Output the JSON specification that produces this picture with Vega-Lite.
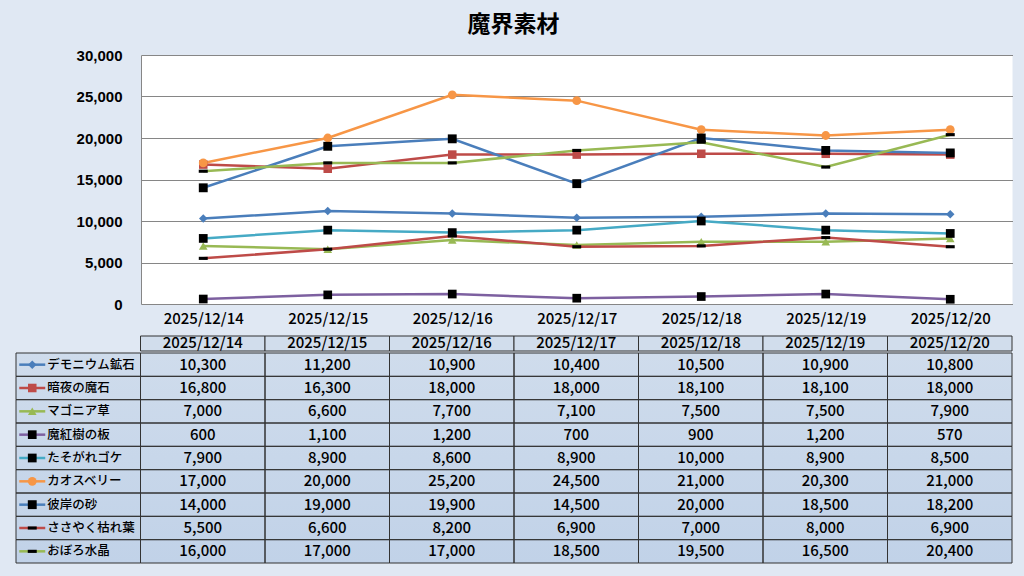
{
  "$schema": "https://vega.github.io/schema/vega-lite/v6.json",
  "background": "#e0e8f3",
  "padding": {"left": 14, "right": 14, "top": 14, "bottom": 12},
  "title": {"text": "魔界素材", "fontSize": 23, "font": "Noto Sans CJK JP", "fontWeight": "bold", "color": "#000000", "anchor": "middle", "offset": 11},
  "config": {"view": {"stroke": null}, "font": "Noto Sans CJK JP"},
  "datasets": {
    "long": [
      {"series": "デモニウム鉱石", "date": "2025/12/14", "value": 10300},
      {"series": "デモニウム鉱石", "date": "2025/12/15", "value": 11200},
      {"series": "デモニウム鉱石", "date": "2025/12/16", "value": 10900},
      {"series": "デモニウム鉱石", "date": "2025/12/17", "value": 10400},
      {"series": "デモニウム鉱石", "date": "2025/12/18", "value": 10500},
      {"series": "デモニウム鉱石", "date": "2025/12/19", "value": 10900},
      {"series": "デモニウム鉱石", "date": "2025/12/20", "value": 10800},
      {"series": "暗夜の魔石", "date": "2025/12/14", "value": 16800},
      {"series": "暗夜の魔石", "date": "2025/12/15", "value": 16300},
      {"series": "暗夜の魔石", "date": "2025/12/16", "value": 18000},
      {"series": "暗夜の魔石", "date": "2025/12/17", "value": 18000},
      {"series": "暗夜の魔石", "date": "2025/12/18", "value": 18100},
      {"series": "暗夜の魔石", "date": "2025/12/19", "value": 18100},
      {"series": "暗夜の魔石", "date": "2025/12/20", "value": 18000},
      {"series": "マゴニア草", "date": "2025/12/14", "value": 7000},
      {"series": "マゴニア草", "date": "2025/12/15", "value": 6600},
      {"series": "マゴニア草", "date": "2025/12/16", "value": 7700},
      {"series": "マゴニア草", "date": "2025/12/17", "value": 7100},
      {"series": "マゴニア草", "date": "2025/12/18", "value": 7500},
      {"series": "マゴニア草", "date": "2025/12/19", "value": 7500},
      {"series": "マゴニア草", "date": "2025/12/20", "value": 7900},
      {"series": "魔紅樹の板", "date": "2025/12/14", "value": 600},
      {"series": "魔紅樹の板", "date": "2025/12/15", "value": 1100},
      {"series": "魔紅樹の板", "date": "2025/12/16", "value": 1200},
      {"series": "魔紅樹の板", "date": "2025/12/17", "value": 700},
      {"series": "魔紅樹の板", "date": "2025/12/18", "value": 900},
      {"series": "魔紅樹の板", "date": "2025/12/19", "value": 1200},
      {"series": "魔紅樹の板", "date": "2025/12/20", "value": 570},
      {"series": "たそがれゴケ", "date": "2025/12/14", "value": 7900},
      {"series": "たそがれゴケ", "date": "2025/12/15", "value": 8900},
      {"series": "たそがれゴケ", "date": "2025/12/16", "value": 8600},
      {"series": "たそがれゴケ", "date": "2025/12/17", "value": 8900},
      {"series": "たそがれゴケ", "date": "2025/12/18", "value": 10000},
      {"series": "たそがれゴケ", "date": "2025/12/19", "value": 8900},
      {"series": "たそがれゴケ", "date": "2025/12/20", "value": 8500},
      {"series": "カオスベリー", "date": "2025/12/14", "value": 17000},
      {"series": "カオスベリー", "date": "2025/12/15", "value": 20000},
      {"series": "カオスベリー", "date": "2025/12/16", "value": 25200},
      {"series": "カオスベリー", "date": "2025/12/17", "value": 24500},
      {"series": "カオスベリー", "date": "2025/12/18", "value": 21000},
      {"series": "カオスベリー", "date": "2025/12/19", "value": 20300},
      {"series": "カオスベリー", "date": "2025/12/20", "value": 21000},
      {"series": "彼岸の砂", "date": "2025/12/14", "value": 14000},
      {"series": "彼岸の砂", "date": "2025/12/15", "value": 19000},
      {"series": "彼岸の砂", "date": "2025/12/16", "value": 19900},
      {"series": "彼岸の砂", "date": "2025/12/17", "value": 14500},
      {"series": "彼岸の砂", "date": "2025/12/18", "value": 20000},
      {"series": "彼岸の砂", "date": "2025/12/19", "value": 18500},
      {"series": "彼岸の砂", "date": "2025/12/20", "value": 18200},
      {"series": "ささやく枯れ葉", "date": "2025/12/14", "value": 5500},
      {"series": "ささやく枯れ葉", "date": "2025/12/15", "value": 6600},
      {"series": "ささやく枯れ葉", "date": "2025/12/16", "value": 8200},
      {"series": "ささやく枯れ葉", "date": "2025/12/17", "value": 6900},
      {"series": "ささやく枯れ葉", "date": "2025/12/18", "value": 7000},
      {"series": "ささやく枯れ葉", "date": "2025/12/19", "value": 8000},
      {"series": "ささやく枯れ葉", "date": "2025/12/20", "value": 6900},
      {"series": "おぼろ水晶", "date": "2025/12/14", "value": 16000},
      {"series": "おぼろ水晶", "date": "2025/12/15", "value": 17000},
      {"series": "おぼろ水晶", "date": "2025/12/16", "value": 17000},
      {"series": "おぼろ水晶", "date": "2025/12/17", "value": 18500},
      {"series": "おぼろ水晶", "date": "2025/12/18", "value": 19500},
      {"series": "おぼろ水晶", "date": "2025/12/19", "value": 16500},
      {"series": "おぼろ水晶", "date": "2025/12/20", "value": 20400}
    ],
    "series": [
      {"series": "デモニウム鉱石"}, {"series": "暗夜の魔石"}, {"series": "マゴニア草"},
      {"series": "魔紅樹の板"}, {"series": "たそがれゴケ"}, {"series": "カオスベリー"},
      {"series": "彼岸の砂"}, {"series": "ささやく枯れ葉"}, {"series": "おぼろ水晶"}
    ],
    "dates": [
      {"date": "2025/12/14"}, {"date": "2025/12/15"}, {"date": "2025/12/16"}, {"date": "2025/12/17"},
      {"date": "2025/12/18"}, {"date": "2025/12/19"}, {"date": "2025/12/20"}
    ]
  },
  "spacing": 9,
  "vconcat": [
    {
      "bounds": "flush",
      "spacing": 0,
      "hconcat": [
        {
          "width": 124.5, "height": 249,
          "data": {"values": [{}]},
          "mark": {"type": "text"},
          "encoding": {"text": {"value": ""}}
        },
        {
          "width": 871.5, "height": 249,
          "view": {"fill": "#ffffff", "stroke": null},
          "data": {"name": "long"},
          "encoding": {
            "x": {"field": "date", "type": "ordinal",
              "scale": {"domain": ["2025/12/14", "2025/12/15", "2025/12/16", "2025/12/17", "2025/12/18", "2025/12/19", "2025/12/20"], "padding": 0.5},
              "axis": {"title": null, "ticks": false, "domain": false, "labelAngle": 0, "labelPadding": 7, "labelFontSize": 15, "labelFontWeight": 500, "labelColor": "#000000", "labelFont": "Noto Sans CJK JP"}},
            "y": {"field": "value", "type": "quantitative",
              "scale": {"domain": [0, 30000], "nice": false},
              "axis": {"title": null, "values": [0, 5000, 10000, 15000, 20000, 25000, 30000], "format": ",d", "grid": true, "gridColor": "#868686", "gridWidth": 1, "domain": true, "domainColor": "#868686", "ticks": false, "labelPadding": 19, "labelFont": "Liberation Sans", "labelFontSize": 15, "labelFontWeight": "bold", "labelColor": "#000000"}}
          },
          "layer": [
            {
              "mark": {"type": "line", "strokeWidth": 2.5},
              "encoding": {
                "color": {"field": "series", "type": "nominal",
                  "scale": {"domain": ["デモニウム鉱石", "暗夜の魔石", "マゴニア草", "魔紅樹の板", "たそがれゴケ", "カオスベリー", "彼岸の砂", "ささやく枯れ葉", "おぼろ水晶"],
                    "range": ["#4A7EBB", "#BE4B48", "#98B954", "#7D60A0", "#46AAC5", "#F79646", "#4A7EBB", "#BE4B48", "#98B954"]},
                  "legend": null}
              }
            },
            {
              "mark": {"type": "point", "filled": true, "opacity": 1, "strokeWidth": 0},
              "encoding": {
                "shape": {"field": "series", "type": "nominal",
                  "scale": {"domain": ["デモニウム鉱石", "暗夜の魔石", "マゴニア草", "魔紅樹の板", "たそがれゴケ", "カオスベリー", "彼岸の砂", "ささやく枯れ葉", "おぼろ水晶"],
                    "range": ["diamond", "square", "triangle-up", "square", "square", "circle", "square", "M-1,-0.35H1V0.35H-1Z", "M-1,-0.35H1V0.35H-1Z"]},
                  "legend": null},
                "fill": {"field": "series", "type": "nominal",
                  "scale": {"domain": ["デモニウム鉱石", "暗夜の魔石", "マゴニア草", "魔紅樹の板", "たそがれゴケ", "カオスベリー", "彼岸の砂", "ささやく枯れ葉", "おぼろ水晶"],
                    "range": ["#4A7EBB", "#BE4B48", "#98B954", "#000000", "#000000", "#F79646", "#000000", "#000000", "#000000"]},
                  "legend": null},
                "size": {"field": "series", "type": "ordinal",
                  "scale": {"domain": ["デモニウム鉱石", "暗夜の魔石", "マゴニア草", "魔紅樹の板", "たそがれゴケ", "カオスベリー", "彼岸の砂", "ささやく枯れ葉", "おぼろ水晶"],
                    "range": [72, 81, 81, 100, 100, 110, 100, 56, 56]},
                  "legend": null}
              }
            }
          ]
        }
      ]
    },
    {
      "spacing": 0,
      "vconcat": [
        {
          "width": 996, "height": 15,
          "data": {"name": "dates"},
          "encoding": {
            "x": {"field": "date", "type": "ordinal",
              "scale": {"domain": ["凡例", "2025/12/14", "2025/12/15", "2025/12/16", "2025/12/17", "2025/12/18", "2025/12/19", "2025/12/20"], "paddingInner": 0, "paddingOuter": 0},
              "axis": null}
          },
          "layer": [
            {"mark": {"type": "rect", "fill": "#d1ddec", "stroke": "#333333", "strokeWidth": 1}},
            {"mark": {"type": "text", "fontSize": 15, "fontWeight": 500, "color": "#000000", "baseline": "middle", "dy": -1},
             "encoding": {"text": {"field": "date"}}}
          ]
        },
        {
          "width": 996, "height": 210,
          "view": {"stroke": null, "fill": {"gradient": "linear", "x1": 0, "y1": 0, "x2": 0, "y2": 1, "stops": [{"offset": 0, "color": "#cfdcec"}, {"offset": 1, "color": "#c1d2e8"}]}},
          "layer": [
            {
              "data": {"name": "long"},
              "mark": {"type": "rect", "fill": null, "stroke": "#333333", "strokeWidth": 1},
              "encoding": {
                "x": {"field": "date", "type": "ordinal",
                  "scale": {"domain": ["凡例", "2025/12/14", "2025/12/15", "2025/12/16", "2025/12/17", "2025/12/18", "2025/12/19", "2025/12/20"], "paddingInner": 0, "paddingOuter": 0},
                  "axis": null},
                "y": {"field": "series", "type": "nominal",
                  "scale": {"domain": ["デモニウム鉱石", "暗夜の魔石", "マゴニア草", "魔紅樹の板", "たそがれゴケ", "カオスベリー", "彼岸の砂", "ささやく枯れ葉", "おぼろ水晶"], "paddingInner": 0, "paddingOuter": 0},
                  "axis": null}
              }
            },
            {
              "data": {"name": "long"},
              "mark": {"type": "text", "fontSize": 15, "fontWeight": 500, "color": "#000000", "baseline": "middle"},
              "encoding": {
                "x": {"field": "date", "type": "ordinal"},
                "y": {"field": "series", "type": "nominal"},
                "text": {"field": "value", "type": "quantitative", "format": ","}
              }
            },
            {
              "data": {"name": "series"},
              "mark": {"type": "rect", "fill": null, "stroke": "#333333", "strokeWidth": 1},
              "encoding": {
                "x": {"datum": "凡例", "type": "ordinal"},
                "y": {"field": "series", "type": "nominal"}
              }
            },
            {
              "data": {"name": "series"},
              "mark": {"type": "point", "shape": "M-1,0H1", "size": 676, "strokeWidth": 2.5, "filled": false, "opacity": 1, "xOffset": -46},
              "encoding": {
                "x": {"datum": "凡例", "type": "ordinal"},
                "y": {"field": "series", "type": "nominal"},
                "stroke": {"field": "series", "type": "nominal",
                  "scale": {"domain": ["デモニウム鉱石", "暗夜の魔石", "マゴニア草", "魔紅樹の板", "たそがれゴケ", "カオスベリー", "彼岸の砂", "ささやく枯れ葉", "おぼろ水晶"],
                    "range": ["#4A7EBB", "#BE4B48", "#98B954", "#7D60A0", "#46AAC5", "#F79646", "#4A7EBB", "#BE4B48", "#98B954"]},
                  "legend": null}
              }
            },
            {
              "data": {"name": "series"},
              "mark": {"type": "point", "filled": true, "opacity": 1, "strokeWidth": 0, "xOffset": -46},
              "encoding": {
                "x": {"datum": "凡例", "type": "ordinal"},
                "y": {"field": "series", "type": "nominal"},
                "shape": {"field": "series", "type": "nominal",
                  "scale": {"domain": ["デモニウム鉱石", "暗夜の魔石", "マゴニア草", "魔紅樹の板", "たそがれゴケ", "カオスベリー", "彼岸の砂", "ささやく枯れ葉", "おぼろ水晶"],
                    "range": ["diamond", "square", "triangle-up", "square", "square", "circle", "square", "M-1,-0.35H1V0.35H-1Z", "M-1,-0.35H1V0.35H-1Z"]},
                  "legend": null},
                "fill": {"field": "series", "type": "nominal",
                  "scale": {"domain": ["デモニウム鉱石", "暗夜の魔石", "マゴニア草", "魔紅樹の板", "たそがれゴケ", "カオスベリー", "彼岸の砂", "ささやく枯れ葉", "おぼろ水晶"],
                    "range": ["#4A7EBB", "#BE4B48", "#98B954", "#000000", "#000000", "#F79646", "#000000", "#000000", "#000000"]},
                  "legend": null},
                "size": {"field": "series", "type": "ordinal",
                  "scale": {"domain": ["デモニウム鉱石", "暗夜の魔石", "マゴニア草", "魔紅樹の板", "たそがれゴケ", "カオスベリー", "彼岸の砂", "ささやく枯れ葉", "おぼろ水晶"],
                    "range": [64, 72, 72, 72, 72, 100, 72, 49, 49]},
                  "legend": null}
              }
            },
            {
              "data": {"name": "series"},
              "mark": {"type": "text", "fontSize": 12.5, "fontWeight": 500, "color": "#000000", "align": "left", "baseline": "middle", "dx": -31},
              "encoding": {
                "x": {"datum": "凡例", "type": "ordinal"},
                "y": {"field": "series", "type": "nominal"},
                "text": {"field": "series"}
              }
            }
          ]
        }
      ]
    }
  ]
}
